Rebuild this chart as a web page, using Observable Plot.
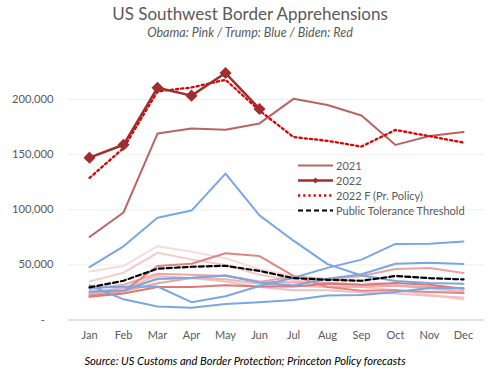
<!DOCTYPE html>
<html><head><meta charset="utf-8">
<script src="https://cdn.jsdelivr.net/npm/d3@7"></script>
<script src="https://cdn.jsdelivr.net/npm/@observablehq/plot@0.6"></script>
<style>
body{margin:0;background:#fff;font-family:Lato,"Open Sans",sans-serif;}
#wrap{position:relative;width:500px;height:378px;overflow:hidden;background:#fff;}
#title{position:absolute;top:4px;left:0;width:500px;text-align:center;font-size:17px;line-height:20px;color:#595959;}
#sub{position:absolute;top:25px;left:0;width:500px;text-align:center;font-size:12.5px;line-height:16px;font-style:italic;color:#595959;}
#chart{position:absolute;top:40px;left:0;}
#cap{position:absolute;top:354px;left:0;width:490px;text-align:center;font-size:11.2px;line-height:14px;font-style:italic;color:#000;}
#legend{position:absolute;left:298px;top:157.5px;font-size:11px;color:#595959;}
#legend .row{height:15px;line-height:15px;white-space:nowrap;}
#legend svg{vertical-align:top;margin-right:2px;}
</style></head>
<body><div id="wrap">
<div id="title">US Southwest Border Apprehensions</div>
<div id="sub">Obama: Pink / Trump: Blue / Biden: Red</div>
<div id="chart"></div>
<div id="legend"></div>
<div id="cap">Source: US Customs and Border Protection; Princeton Policy forecasts</div>
</div>
<script>
const months = ["Jan","Feb","Mar","Apr","May","Jun","Jul","Aug","Sep","Oct","Nov","Dec"];
const yTicks = [0, 50000, 100000, 150000, 200000];

// Obama years (pink)
const obama2009 = [44000, 49000, 67000, 62000, 56000, 46000, 40000, 37000, 35000, 32000, 28000, 24000];
const obama2010 = [35000, 43000, 61000, 55000, 50000, 41000, 36000, 33000, 30000, 27000, 23000, 18500];
const obama2011 = [24000, 29000, 40000, 38000, 35000, 30000, 27000, 27000, 25000, 24000, 22000, 20500];
const obama2012 = [25000, 29000, 37000, 38000, 37000, 33000, 31000, 30000, 30000, 31000, 29000, 26000];
const obama2013 = [28000, 32000, 42000, 41000, 40000, 35000, 34000, 34000, 32000, 31000, 30000, 28500];
const obama2014 = [22000, 26000, 49000, 51000, 60500, 58000, 40000, 30000, 26500, 27000, 25500, 24500];
const obama2015 = [21000, 24000, 30000, 30000, 31500, 30500, 30500, 33000, 32000, 33500, 32000, 28400];
const obama2016 = [23700, 26000, 33300, 38000, 40300, 34500, 39500, 37000, 40000, 46200, 47200, 42600];
// Trump years (blue)
const trump2017 = [31575, 18762, 12193, 11127, 14519, 16087, 18187, 22293, 22619, 25487, 29086, 28995];
const trump2018 = [25975, 26666, 37393, 38278, 40339, 34114, 31303, 37524, 41486, 51001, 51856, 50749];
const trump2019 = [47979, 66884, 92833, 99273, 132856, 94897, 71978, 50684, 40420, 35402, 33510, 32858];
const trump2020 = [29208, 30077, 30389, 16182, 21593, 30830, 38347, 47283, 54771, 69032, 69196, 71137];
// Biden years
const biden2021 = [75300, 97600, 169200, 173700, 172700, 178400, 200700, 195100, 185500, 158900, 166900, 170600];
const biden2022 = [147300, 159000, 210800, 203600, 224100, 191500];
const forecast2022 = [128900, 156000, 207500, 211000, 218000, 190000, 166000, 162600, 157400, 172500, 166800, 161000];
const threshold = [29600, 35600, 46500, 48300, 49200, 44500, 38000, 36500, 35600, 39900, 38000, 36800];

const obamaSeries = [
  [obama2009, "#f8dada"], [obama2010, "#f4caca"], [obama2011, "#efc0c0"], [obama2012, "#ecb4b4"],
  [obama2013, "#e9a9a9"], [obama2014, "#df8584"], [obama2015, "#dc7878"], [obama2016, "#e8a3a3"]
];
const trumpSeries = [trump2017, trump2018, trump2019, trump2020];
const BLUE = "#79a7e3", C2021 = "#b86462", C2022 = "#a02e2e", CF = "#e00000";

const rows = arr => arr.map((v, i) => ({month: months[i], value: v}));

const marks = [
  Plot.ruleY(yTicks.filter(d => d > 0), {stroke: "#eeeeee", strokeWidth: 1}),
  Plot.ruleY([0], {stroke: "#d9d9d9", strokeWidth: 1.5}),
  Plot.axisY({ticks: yTicks, tickSize: 0, tickPadding: 14.5, fontSize: 11.2,
    tickFormat: d => d === 0 ? "-\u00a0\u00a0\u00a0" : d3.format(",")(d)}),
  Plot.axisX({tickSize: 0, tickPadding: 11, fontSize: 11})
];
for (const [arr, c] of obamaSeries) marks.push(Plot.lineY(rows(arr), {x: "month", y: "value", stroke: c, strokeWidth: 2}));
for (const arr of trumpSeries) marks.push(Plot.lineY(rows(arr), {x: "month", y: "value", stroke: BLUE, strokeWidth: 2}));
marks.push(Plot.lineY(rows(threshold), {x: "month", y: "value", stroke: "#000", strokeWidth: 2.2, strokeDasharray: "5,3"}));
marks.push(Plot.lineY(rows(biden2021), {x: "month", y: "value", stroke: C2021, strokeWidth: 2}));
marks.push(Plot.lineY(rows(forecast2022), {x: "month", y: "value", stroke: CF, strokeWidth: 2.3, strokeDasharray: "2.2,3"}));
marks.push(Plot.lineY(rows(biden2022), {x: "month", y: "value", stroke: C2022, strokeWidth: 2.5}));
marks.push(Plot.dot(rows(biden2022), {x: "month", y: "value", symbol: "diamond2", r: 4.5, fill: C2022, stroke: C2022}));

const chart = Plot.plot({
  width: 500, height: 310,
  marginTop: 4, marginBottom: 30.5, marginLeft: 67.5, marginRight: 15.5,
  x: {type: "point", domain: months, padding: 0.5, label: null},
  y: {domain: [0, 250000], label: null},
  style: {fontFamily: "Lato, 'Open Sans', sans-serif", color: "#595959", background: "white", overflow: "visible"},
  marks
});
document.getElementById("chart").appendChild(chart);

// legend
const legendItems = [
  {label: "2021", stroke: C2021, width: 2, dash: null, marker: false},
  {label: "2022", stroke: C2022, width: 2.5, dash: null, marker: true},
  {label: "2022 F (Pr. Policy)", stroke: CF, width: 2.3, dash: "2.2,3", marker: false},
  {label: "Public Tolerance Threshold", stroke: "#000", width: 2.2, dash: "5,3", marker: false}
];
const leg = document.getElementById("legend");
for (const it of legendItems) {
  const row = document.createElement("div");
  row.className = "row";
  const ns = "http://www.w3.org/2000/svg";
  const s = document.createElementNS(ns, "svg");
  s.setAttribute("width", 36); s.setAttribute("height", 15);
  const l = document.createElementNS(ns, "line");
  l.setAttribute("x1", 0); l.setAttribute("x2", 35); l.setAttribute("y1", 7.5); l.setAttribute("y2", 7.5);
  l.setAttribute("stroke", it.stroke); l.setAttribute("stroke-width", it.width);
  if (it.dash) l.setAttribute("stroke-dasharray", it.dash);
  s.appendChild(l);
  if (it.marker) {
    const p = document.createElementNS(ns, "path");
    p.setAttribute("d", "M17.5,4.5L20.5,7.5L17.5,10.5L14.5,7.5Z");
    p.setAttribute("fill", it.stroke);
    s.appendChild(p);
  }
  row.appendChild(s);
  row.appendChild(document.createTextNode(it.label));
  leg.appendChild(row);
}
</script>
</body></html>
